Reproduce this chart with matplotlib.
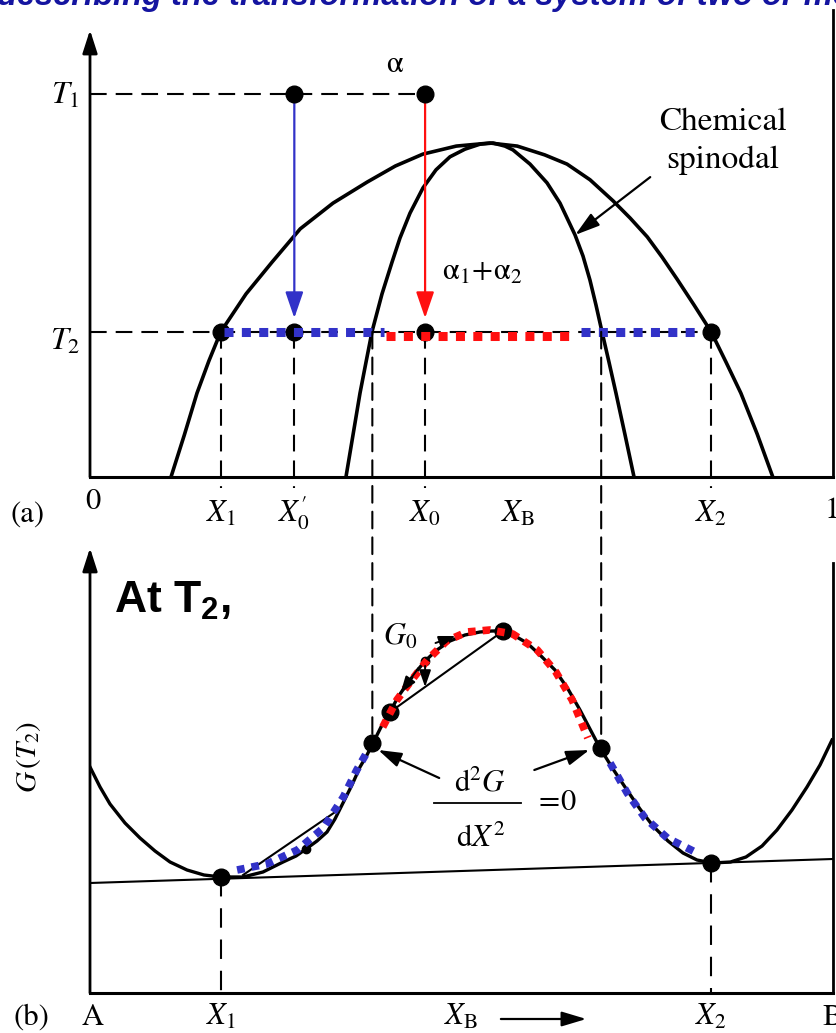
import matplotlib
matplotlib.use('Agg')
import matplotlib.pyplot as plt
from matplotlib.patches import ConnectionPatch

plt.rcParams['mathtext.fontset'] = 'stix'
plt.rcParams['lines.scale_dashes'] = False
plt.rcParams['mathtext.bf'] = 'Liberation Sans:bold'
plt.rcParams['mathtext.rm'] = 'Liberation Sans'
plt.rcParams['mathtext.it'] = 'Liberation Sans:italic'

# ---------------- data: panel (a) phase diagram ----------------
T1 = 1.0
T2 = 0.379
X1, X0p, X0, X2 = 0.176, 0.275, 0.451, 0.836
XB_pos = 0.576
spin_T2 = [0.380, 0.688]
arrow_end_T = 0.415

binodal_x = [0.109, 0.127, 0.144, 0.160, 0.176, 0.210, 0.245, 0.283, 0.327, 0.373,
             0.411, 0.448, 0.493, 0.538, 0.575, 0.612, 0.642, 0.673, 0.704, 0.727,
             0.750, 0.770, 0.790, 0.813, 0.836, 0.856, 0.876, 0.898, 0.919]
binodal_T = [0.000, 0.110, 0.219, 0.303, 0.379, 0.478, 0.561, 0.648, 0.715, 0.770,
             0.812, 0.843, 0.864, 0.872, 0.864, 0.841, 0.817, 0.776, 0.721, 0.676,
             0.627, 0.574, 0.517, 0.449, 0.379, 0.300, 0.219, 0.112, 0.000]

spinodal_x = [0.3445, 0.354, 0.3634, 0.3715, 0.3795, 0.393, 0.4065, 0.4172, 0.4307, 0.4482,
              0.4657, 0.4845, 0.5047, 0.5249, 0.5424, 0.5585, 0.5693, 0.5922, 0.6151, 0.6326,
              0.6528, 0.6635, 0.6729, 0.681, 0.6891, 0.6985, 0.7079, 0.7201, 0.7322]
spinodal_T = [0.000, 0.110, 0.219, 0.300, 0.379, 0.478, 0.561, 0.624, 0.689, 0.755,
              0.802, 0.836, 0.856, 0.869, 0.872, 0.864, 0.854, 0.817, 0.768, 0.715,
              0.632, 0.577, 0.514, 0.449, 0.379, 0.300, 0.219, 0.110, 0.000]

blue_top_1 = [0.180, 0.396]
red_top = [0.398, 0.646]
red_top_T = 0.368
blue_top_2 = [0.661, 0.816]

top_labels = ['$X_1$', "$X^{\\prime}_0$", '$X_0$', '$X_{\\mathrm{B}}$', '$X_2$']
top_label_pos = [X1, X0p, X0, XB_pos, X2]

# ---------------- data: panel (b) free energy curve ----------------
G_x = [0.0000, 0.0135, 0.0269, 0.0471, 0.0673, 0.0875, 0.1077, 0.1306, 0.1534, 0.1763,
       0.2059, 0.2328, 0.2598, 0.2773, 0.2907, 0.3055, 0.3190, 0.3297, 0.3405, 0.3526,
       0.3634, 0.3728, 0.3809, 0.3917, 0.4038, 0.4145, 0.4266, 0.4388, 0.4509, 0.4670,
       0.4845, 0.5047, 0.5249, 0.5410, 0.5559, 0.5720, 0.5882, 0.6057, 0.6258, 0.6433,
       0.6595, 0.6729, 0.6864, 0.7039, 0.7227, 0.7402, 0.7577, 0.7779, 0.7981, 0.8170,
       0.8378, 0.8620, 0.8829, 0.9045, 0.9246, 0.9448, 0.9650, 0.9825, 0.9987]
G_y = [2.26, 2.06, 1.89, 1.70, 1.55, 1.42, 1.31, 1.23, 1.18, 1.16,
       1.16, 1.21, 1.31, 1.37, 1.44, 1.52, 1.61, 1.74, 1.90, 2.08,
       2.26, 2.38, 2.50, 2.66, 2.81, 2.96, 3.09, 3.21, 3.32, 3.43,
       3.52, 3.58, 3.61, 3.62, 3.62, 3.57, 3.50, 3.38, 3.23, 3.04,
       2.83, 2.64, 2.45, 2.24, 2.03, 1.84, 1.67, 1.52, 1.40, 1.33,
       1.30, 1.31, 1.36, 1.47, 1.63, 1.83, 2.06, 2.28, 2.53]

tangent_x = [0.0, 1.0]
tangent_G = [1.10, 1.34]

blue_b1_x = [0.198, 0.238, 0.279, 0.314, 0.341, 0.359, 0.373]
blue_b1_G = [1.23, 1.29, 1.43, 1.65, 1.96, 2.23, 2.41]
red_b_x = [0.394, 0.413, 0.431, 0.454, 0.480, 0.507, 0.538, 0.569, 0.602, 0.627, 0.649, 0.670]
red_b_G = [2.66, 2.93, 3.11, 3.33, 3.52, 3.61, 3.63, 3.59, 3.43, 3.21, 2.93, 2.55]
blue_b2_x = [0.700, 0.723, 0.747, 0.777, 0.817]
blue_b2_G = [2.30, 2.00, 1.75, 1.55, 1.40]

chord1_x = [0.206, 0.332]
chord1_G = [1.18, 1.82]
chord2_x = [0.404, 0.556]
chord2_G = [2.81, 3.62]

big_dots_b_x = [X1, 0.380, 0.404, 0.556, 0.688, X2]
big_dots_b_G = [1.16, 2.50, 2.81, 3.62, 2.45, 1.30]
small_dots_b_x = [0.451, 0.291]
small_dots_b_G = [3.32, 1.44]
G_X1, G_X2 = 1.16, 1.30
G_infl = [2.50, 2.45]

BLUE = '#3232c8'
RED = '#ff1010'
DASH = (0, (12, 6.5))
DOT_TOP = (0, (6.5, 6.0))
DOT_B = (0, (5.5, 5.0))

# ---------------- figure ----------------
W, H = 836, 1033
fig = plt.figure(figsize=(W / 100, H / 100), dpi=100)


def rect(x0, y_top, x1, y_bot):
    return [x0 / W, 1 - y_bot / H, (x1 - x0) / W, (y_bot - y_top) / H]


ax1 = fig.add_axes(rect(90, 10, 833, 477))
ax2 = fig.add_axes(rect(90, 548, 833, 993))
ax1.set_xlim(0, 1)
ax1.set_ylim(0, 1.2193)
ax2.set_xlim(0, 1)
ax2.set_ylim(0, 4.45)

for ax in (ax1, ax2):
    ax.set_xticks([])
    ax.set_yticks([])
    ax.spines['top'].set_visible(False)
    ax.spines['left'].set_visible(False)
    ax.spines['bottom'].set_linewidth(2.2)
    ax.spines['right'].set_linewidth(2.0)
    ax.patch.set_alpha(0)
ax2.spines['right'].set_bounds(0, 4.30)

axis_arrow = dict(arrowstyle='-|>,head_length=1.4,head_width=0.45', mutation_scale=10,
                  lw=2.0, color='black', shrinkA=0, shrinkB=0)
ax1.annotate('', xy=(0, 1.167), xytext=(0, 0), arrowprops=axis_arrow, annotation_clip=False)
ax2.annotate('', xy=(0, 4.45), xytext=(0, 0), arrowprops=axis_arrow, annotation_clip=False)

# ---- panel (a) ----
ax1.plot(binodal_x, binodal_T, color='black', lw=2.6, zorder=3)
ax1.plot(spinodal_x, spinodal_T, color='black', lw=2.6, zorder=3)

ax1.plot([0, X0], [T1, T1], color='black', lw=1.5, ls=DASH, clip_on=False, zorder=2)
ax1.plot([0, X2], [T2, T2], color='black', lw=1.5, ls=DASH, clip_on=False, zorder=2)
for xv in (X1, X0p, X0, X2):
    ax1.plot([xv, xv], [T2, -0.03], color='black', lw=1.5, ls=DASH, clip_on=False, zorder=2)

# spinodal construction lines linking the two panels
for xs, gi in zip(spin_T2, G_infl):
    con = ConnectionPatch(xyA=(xs, T2), coordsA=ax1.transData,
                          xyB=(xs, gi), coordsB=ax2.transData,
                          color='black', lw=1.5, linestyle=DASH, zorder=2)
    fig.add_artist(con)

# quench arrows
quench = dict(arrowstyle='-|>,head_length=1.6,head_width=0.55', mutation_scale=10,
              lw=1.6, shrinkA=0, shrinkB=0)
ax1.annotate('', xy=(X0p, arrow_end_T), xytext=(X0p, T1),
             arrowprops=dict(color=BLUE, **quench), zorder=4)
ax1.annotate('', xy=(X0, arrow_end_T), xytext=(X0, T1),
             arrowprops=dict(color=RED, **quench), zorder=4)

ax1.plot([X0p, X0], [T1, T1], 'o', color='black', ms=12, zorder=5, clip_on=False)
ax1.plot([X1, X0p, X0, X2], [T2] * 4, 'o', color='black', ms=12, zorder=5)

ax1.plot(blue_top_1, [T2, T2], color=BLUE, lw=6.5, ls=DOT_TOP, dash_capstyle='butt', zorder=6)
ax1.plot(red_top, [red_top_T, red_top_T], color=RED, lw=6.5, ls=DOT_TOP,
         dash_capstyle='butt', zorder=6)
ax1.plot(blue_top_2, [T2, T2], color=BLUE, lw=6.5, ls=DOT_TOP, dash_capstyle='butt', zorder=6)

# labels panel (a)
lab = dict(fontsize=22, va='baseline')
ax1.text(-0.0135, 0.974, '$T_1$', ha='right', fontsize=23, va='baseline')
ax1.text(-0.0135, 0.332, '$T_2$', ha='right', fontsize=23, va='baseline')
for s, xv in zip(top_labels, top_label_pos):
    ax1.text(xv, -0.1175, s, ha='center', clip_on=False, **lab)
ax1.text(0.004, -0.0836, '0', ha='center', family='STIXGeneral', **lab)
ax1.text(0.9987, -0.108, '1', ha='center', family='STIXGeneral', **lab)
ax1.text(-0.0834, -0.1175, '(a)', ha='center', family='STIXGeneral', **lab)
ax1.text(0.410, 1.057, 'α', ha='center', family='STIXGeneral', **lab)
ax1.text(0.528, 0.514, r'$\mathrm{\alpha}_1\!+\!\mathrm{\alpha}_2$', ha='center', **lab)
ax1.text(0.852, 0.906, 'Chemical', ha='center', family='STIXGeneral', fontsize=24, va='baseline')
ax1.text(0.852, 0.807, 'spinodal', ha='center', family='STIXGeneral', fontsize=24, va='baseline')
ax1.annotate('', xy=(0.653, 0.632), xytext=(0.754, 0.783),
             arrowprops=dict(arrowstyle='-|>,head_length=1.5,head_width=0.45', mutation_scale=10,
                             lw=1.6, color='black', shrinkA=0, shrinkB=0))

# ---- panel (b) ----
ax2.plot(G_x, G_y, color='black', lw=2.4, zorder=3)
ax2.plot(tangent_x, tangent_G, color='black', lw=1.5, zorder=3)
ax2.plot(chord1_x, chord1_G, color='black', lw=1.5, zorder=3)
ax2.plot(chord2_x, chord2_G, color='black', lw=1.5, zorder=3)

ax2.plot([X1, X1], [G_X1, 0], color='black', lw=1.5, ls=(0, (14, 8.5)), zorder=2)
ax2.plot([X2, X2], [G_X2, 0], color='black', lw=1.5, ls=(0, (14, 8.5)), zorder=2)

ax2.plot(big_dots_b_x, big_dots_b_G, 'o', color='black', ms=12, zorder=5)
ax2.plot(small_dots_b_x, small_dots_b_G, 'o', color='black', ms=6, zorder=5)

ax2.plot(blue_b1_x, blue_b1_G, color=BLUE, lw=5.5, ls=DOT_B, dash_capstyle='butt', zorder=6)
ax2.plot(red_b_x, red_b_G, color=RED, lw=5.5, ls=DOT_B, dash_capstyle='butt', zorder=6)
ax2.plot(blue_b2_x, blue_b2_G, color=BLUE, lw=5.5, ls=DOT_B, dash_capstyle='butt', zorder=6)

small_arrow = dict(arrowstyle='-|>,head_length=1.0,head_width=0.35', mutation_scale=10,
                   lw=1.4, color='black', shrinkA=0, shrinkB=0)
ax2.annotate('', xy=(0.451, 3.06), xytext=(0.451, 3.27), arrowprops=small_arrow, zorder=7)
ax2.annotate('', xy=(0.418, 3.00), xytext=(0.442, 3.25), arrowprops=small_arrow, zorder=7)
ax2.annotate('', xy=(0.492, 3.57), xytext=(0.465, 3.50), arrowprops=small_arrow, zorder=7)

infl_arrow = dict(arrowstyle='-|>,head_length=1.4,head_width=0.45', mutation_scale=10,
                  lw=1.6, color='black', shrinkA=0, shrinkB=0)
ax2.annotate('', xy=(0.388, 2.43), xytext=(0.470, 2.15), arrowprops=infl_arrow)
ax2.annotate('', xy=(0.672, 2.43), xytext=(0.598, 2.23), arrowprops=infl_arrow)

ax2.text(0.525, 2.01, r'$\mathrm{d}^2G$', ha='center', **lab)
ax2.plot([0.463, 0.580], [1.90, 1.90], color='black', lw=1.3)
ax2.text(0.526, 1.46, r'$\mathrm{d}X^2$', ha='center', **lab)
ax2.text(0.598, 1.91, r'$=\!0$', ha='left', va='center', fontsize=22)
ax2.text(0.394, 3.48, '$G_0$', ha='left', **lab)

ax2.text(0.032, 3.80, r'$\mathbf{At\ T_2,}$', ha='left', va='baseline', fontsize=32,
         math_fontfamily='custom')

ax2.text(-0.083, 2.36, '$G\\,(T_2)$', rotation=90, ha='center', va='center', fontsize=21)
ax2.text(-0.079, -0.32, '(b)', ha='center', family='STIXGeneral', clip_on=False, **lab)
ax2.text(0.003, -0.32, 'A', ha='center', family='STIXGeneral', clip_on=False, **lab)
ax2.text(X1, -0.32, '$X_1$', ha='center', clip_on=False, **lab)
ax2.text(0.499, -0.32, '$X_{\\mathrm{B}}$', ha='center', clip_on=False, **lab)
ax2.text(X2, -0.32, '$X_2$', ha='center', clip_on=False, **lab)
ax2.text(0.999, -0.32, 'B', ha='center', family='STIXGeneral', clip_on=False, **lab)
ax2.annotate('', xy=(0.668, -0.26), xytext=(0.553, -0.26), annotation_clip=False,
             arrowprops=dict(arrowstyle='-|>,head_length=1.5,head_width=0.45', mutation_scale=10,
                             lw=1.6, color='black', shrinkA=0, shrinkB=0))

# cut-off heading at the very top
fig.text(-0.004, 1 - 5 / H, 'describing the transformation of a system of two or more',
         fontsize=23.5, fontweight='bold', style='italic', color='#1414a0',
         family='Liberation Sans', va='baseline', ha='left')

fig.savefig('out.png', dpi=100)
